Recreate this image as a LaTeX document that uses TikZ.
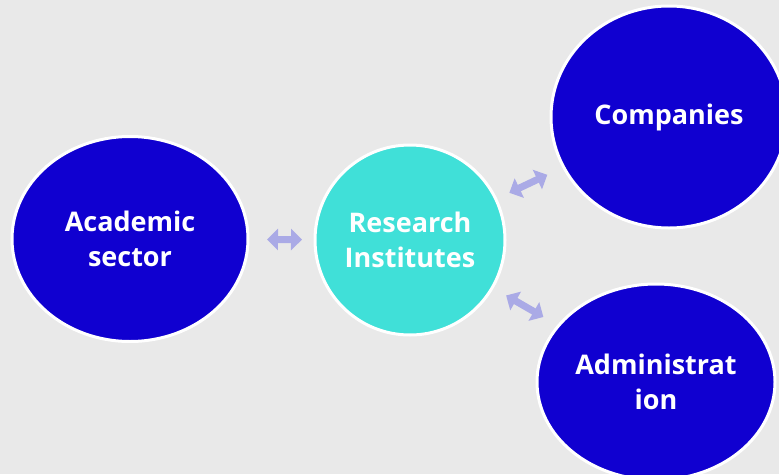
\documentclass[tikz,border=0pt]{standalone}
\usepackage{fontspec}
\setmainfont{Open Sans}
\usetikzlibrary{shapes.geometric,arrows.meta,calc}
\definecolor{bgc}{RGB}{233,233,233}
\definecolor{deepblue}{RGB}{16,0,208}
\definecolor{turq}{RGB}{64,224,216}
\definecolor{arrc}{RGB}{170,170,230}
\tikzset{
  blob/.style={ellipse, draw=white, line width=3pt, fill=deepblue, text=white,
    inner sep=0pt, align=center, font=\fontsize{27}{35}\selectfont\bfseries},
  hub/.style={blob, fill=turq},
  biarrow/.style={line width=7pt, draw=arrc,
    {Triangle[width=21pt,length=11pt]}-{Triangle[width=21pt,length=11pt]}}
}
\begin{document}
\begin{tikzpicture}[x=1pt,y=-1pt]
\fill[bgc] (0,0) rectangle (779,474);
\useasboundingbox (0,0) rectangle (779,474);
\node[blob, minimum width=236pt, minimum height=205pt] (acad) at (130,239) {Academic\\sector};
\node[hub, minimum width=190pt, minimum height=190pt] (res) at (410,240) {Research\\Institutes};
\node[blob, minimum width=236pt, minimum height=222pt] (comp) at (669,117) {Companies};
\node[blob, minimum width=238pt, minimum height=196pt] (adm) at (656,382) {Administrat\\ion};
\draw[biarrow] ($(acad)!137pt!(res)$) -- ($(acad)!172pt!(res)$);
\draw[biarrow] ($(res)!110pt!(comp)$) -- ($(res)!152pt!(comp)$);
\draw[biarrow] ($(res)!111pt!(adm)$) -- ($(res)!154pt!(adm)$);
\end{tikzpicture}
\end{document}
